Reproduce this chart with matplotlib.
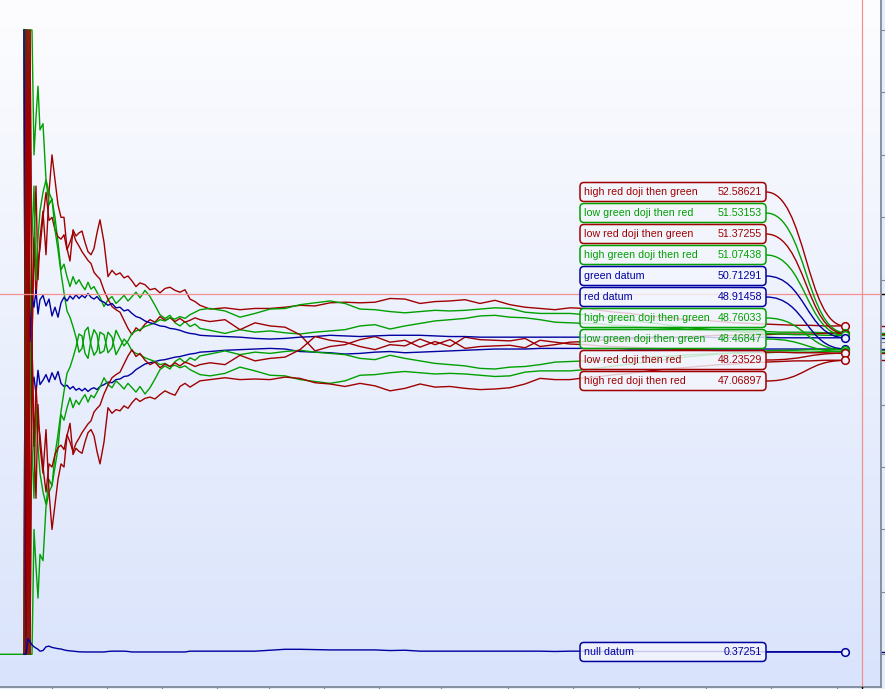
import numpy as np
import matplotlib.pyplot as plt
from matplotlib.patches import FancyBboxPatch, PathPatch
from matplotlib.path import Path
from matplotlib.colors import LinearSegmentedColormap

# bar positions, dense at the start where the ratios swing hard
bars = np.r_[0, np.arange(24, 41, 2), np.arange(43, 101, 3), np.arange(104, 141, 4),
             np.arange(145, 201, 5), np.arange(210, 841, 15), 845]

nan = np.nan

high_red_then_green = [nan,
    100, 100, 0, 100, 50, 66.7, 75, 60, 66.7,
    71, 64, 74, 80, 76, 72, 70, 70, 65, 63, 68, 67, 67.5, 67.8, 66, 64.5, 64, 65, 67.5, 69.6,
    66, 60.5, 61.5, 60.8, 61.1, 60.3, 60.6, 59.8, 58.9, 59.5,
    59.2, 58.4, 58.6, 57.9, 58.6, 58.8, 58.3, 58.0, 58.4, 56.9, 56.5, 55.9,
    55.3, 55.5, 55.2, 55.4, 55.4, 55.6, 55.9, 55.8, 56.3, 56.4,
    56.3, 56.4, 57.0, 56.9, 56.2, 56.5, 56.6, 56.8, 56.2, 56.7,
    56.0, 55.6, 55.4, 55.2, 55.5, 55.4, 55.1, 54.8, 54.6, 54.3,
    54.0, 53.8, 53.6, 53.5, 53.3, 53.1, 53.0, 52.9, 52.8, 52.7,
    52.7, 52.6, 52.6,
    52.58621]

low_green_then_red = [nan,
    100, 100, 100, 100, 100, 80, 86, 91, 84,
    85, 76, 74, 72.8, 70, 66, 61.6, 62.5, 60.5, 58.9, 60.5, 59.3, 60.0, 59.1, 58.4, 59.6, 58.5, 58.9, 58.0, 57.2,
    55.7, 56.8, 57.3, 56.2, 56.8, 57.5, 56.6, 57.3, 58.0, 57.1,
    58.3, 57.3, 55.9, 54.4, 53.8, 54.3, 53.1, 52.6, 53.3, 52.5, 52.9, 52.2,
    51.9, 51.4, 52.0, 51.6, 51.8, 51.5, 51.3, 51.6, 51.8, 52.0,
    52.6, 52.8, 52.1, 52.6, 53.0, 53.4, 53.6, 53.8, 54.2, 54.3,
    54.0, 53.9, 53.6, 53.2, 53.1, 53.0, 52.9, 52.7, 52.6, 52.4,
    52.3, 52.2, 52.0, 51.9, 51.8, 51.8, 51.7, 51.7, 51.6, 51.6,
    51.6, 51.5, 51.5,
    51.53153]

low_red_then_green = [nan,
    100, 0, 100, 0, 50, 66.7, 57, 62.7, 65,
    70, 74, 69.5, 70, 68, 66.9, 66.5, 67.2, 64.8, 66, 67.5, 66.2, 65.4, 64.5, 63.8, 63.1, 62.6, 61.2, 60.6, 60.1,
    58.3, 56.9, 55.7, 55.2, 54.8, 53.5, 52.2, 51.2, 52.3, 51.8,
    52.9, 53.6, 53.2, 54.1, 53.5, 53.9, 53.3, 53.8, 53.2, 53.5, 53.9, 53.6,
    53.3, 53.6, 52.0, 53.1, 52.6, 52.4, 51.2, 48.6, 49.3, 49.6,
    50.4, 50.9, 50.0, 50.3, 49.2, 50.1, 49.3, 50.8, 50.4, 50.3,
    50.2, 50.6, 49.3, 49.6, 50.0, 50.1, 50.3, 50.4, 50.5, 50.6,
    50.7, 50.8, 50.9, 51.0, 51.1, 51.1, 51.2, 51.2, 51.3, 51.3,
    51.3, 51.4, 51.4,
    51.37255]

high_green_then_red = [nan,
    100, 0, 100, 50, 66.7, 75, 60, 66.7, 71,
    74, 76, 72, 73, 68, 64.8, 61.1, 57.9, 55, 54, 52.5, 50.8, 48.4, 49.0, 51.8, 52.4, 49.5, 47.9, 48.6, 51.6,
    51.2, 48.3, 49.1, 51.9, 50.6, 49.4, 50.2, 51.4, 51.8, 52.0,
    52.5, 52.8, 53.1, 53.6, 53.4, 53.9, 53.7, 54.1, 53.8, 54.4, 54.8, 55.2,
    55.4, 55.0, 54.0, 54.6, 55.3, 55.4, 56.0, 56.3, 56.6, 56.2,
    55.3, 55.2, 54.9, 54.7, 54.9, 55.1, 55.0, 55.1, 55.3, 55.5,
    55.4, 54.8, 54.6, 54.6, 54.6, 54.4, 54.1, 53.8, 53.5, 53.2,
    52.9, 52.6, 52.3, 52.1, 51.9, 51.7, 51.5, 51.4, 51.3, 51.2,
    51.2, 51.1, 51.1,
    51.07438]

green_datum = [nan,
    100, 0, 66.7, 50, 57.1, 55.6, 58.3, 54.5, 56.8,
    57.5, 55.8, 56.9, 54.2, 55.6, 54.0, 56.3, 57.2, 56.6, 57.4, 56.9, 57.6, 57.0, 57.5, 57.1, 57.8, 57.2, 56.9, 57.3, 56.7,
    56.4, 55.9, 56.2, 55.5, 55.6, 55.0, 55.2, 54.6, 54.1, 53.9,
    53.4, 53.1, 52.9, 52.6, 52.5, 52.2, 52.1, 51.9, 51.6, 51.4, 51.3, 51.1,
    51.0, 50.9, 50.8, 50.6, 50.5, 50.6, 50.8, 50.9, 51.1, 51.0,
    50.9, 51.0, 51.1, 51.1, 51.1, 51.0, 50.9, 50.9, 50.8, 50.8,
    50.8, 50.8, 50.8, 50.8, 50.8, 50.8, 50.8, 50.8, 50.7, 50.8,
    50.8, 50.7, 50.7, 50.8, 50.7, 50.7, 50.7, 50.8, 50.7, 50.7,
    50.7, 50.7, 50.7,
    50.71291]

red_datum = [nan,
    0, 100, 33.3, 50, 42.9, 44.4, 41.7, 45.5, 43.2,
    43.9, 44.8, 43.6, 45.1, 44.0, 45.3, 43.4, 42.9, 43.1, 42.5, 42.9, 42.3, 42.6, 42.2, 42.6, 42.1, 42.5, 42.7, 42.4, 42.9,
    43.2, 43.6, 43.5, 44.0, 44.1, 44.5, 44.6, 45.0, 45.6, 46.0,
    46.5, 46.7, 46.9, 47.1, 47.2, 47.4, 47.6, 47.7, 47.9, 48.1, 48.2, 48.4,
    48.5, 48.7, 48.8, 48.9, 49.0, 48.9, 48.5, 48.4, 48.3, 48.1,
    48.2, 48.4, 48.5, 48.3, 48.4, 48.5, 48.6, 48.7, 48.8, 48.9,
    48.9, 48.9, 49.0, 49.0, 49.0, 49.0, 49.0, 49.0, 48.9, 48.9,
    48.9, 48.9, 48.9, 48.9, 48.9, 48.9, 48.9, 48.9, 48.9, 48.9,
    48.9, 48.9, 48.9,
    48.91458]

high_green_then_green = [nan,
    0, 100, 0, 50, 33.3, 25, 40, 33.3, 29,
    26, 24, 28, 27, 32, 35.2, 38.9, 42.1, 45, 46, 47.5, 49.2, 51.3, 51.0, 48.2, 47.4, 50.3, 52.0, 51.2, 48.2,
    48.6, 51.6, 50.8, 48.0, 49.2, 50.5, 49.8, 48.6, 48.2, 48.0,
    47.5, 47.2, 46.9, 46.4, 46.6, 46.1, 46.3, 45.9, 46.2, 45.6, 45.2, 44.8,
    44.6, 45.0, 46.0, 45.4, 44.7, 44.6, 44.0, 43.7, 43.4, 43.8,
    44.7, 44.8, 45.1, 45.3, 45.1, 44.9, 45.0, 44.9, 44.7, 44.5,
    44.6, 45.2, 45.4, 45.4, 45.4, 45.6, 45.9, 46.2, 46.5, 46.8,
    47.1, 47.4, 47.7, 47.9, 48.1, 48.3, 48.5, 48.6, 48.7, 48.7,
    48.8, 48.8, 48.8,
    48.76033]

# this one is already drawn along the floor from the first bar
low_green_then_green = [0,
    0, 0, 0, 0, 0, 20, 14, 9, 16,
    15, 23.6, 26, 27, 30, 33, 38.4, 37.5, 39.5, 41.1, 39.5, 40.7, 40.0, 40.9, 41.6, 40.4, 41.5, 41.1, 42.0, 42.8,
    44.3, 43.2, 42.7, 43.8, 43.2, 42.5, 43.4, 42.7, 42.0, 42.9,
    41.7, 42.7, 44.1, 45.6, 46.2, 45.7, 46.9, 47.4, 46.7, 47.5, 47.1, 47.8,
    48.1, 48.6, 48.0, 48.4, 48.2, 48.5, 48.7, 48.4, 48.2, 48.0,
    47.4, 47.2, 47.9, 47.4, 47.0, 46.6, 46.4, 46.2, 45.8, 45.7,
    46.0, 46.1, 46.4, 46.8, 46.9, 47.0, 47.1, 47.3, 47.4, 47.6,
    47.7, 47.8, 48.0, 48.1, 48.2, 48.2, 48.3, 48.3, 48.4, 48.4,
    48.4, 48.5, 48.5,
    48.46847]

low_red_then_red = [nan,
    0, 100, 0, 100, 50, 33.3, 43, 37.3, 35,
    30, 26, 30.5, 30, 32, 33.1, 33.5, 32.8, 35.2, 34, 32.5, 33.8, 34.6, 35.5, 36.2, 36.9, 37.4, 38.8, 39.4, 39.9,
    41.7, 43.1, 44.3, 44.8, 45.2, 46.5, 47.8, 48.8, 47.7, 48.2,
    47.1, 46.4, 46.8, 45.9, 46.5, 46.1, 46.7, 46.2, 46.8, 46.5, 46.1, 46.4,
    46.7, 46.4, 47.9, 47.0, 47.4, 47.6, 48.8, 50.9, 50.3, 50.0,
    49.3, 48.8, 49.6, 49.4, 50.5, 49.6, 50.4, 49.0, 49.3, 49.4,
    49.5, 49.1, 50.3, 50.0, 49.7, 49.6, 49.4, 49.3, 49.2, 49.1,
    49.0, 48.9, 48.8, 48.7, 48.6, 48.5, 48.5, 48.4, 48.4, 48.3,
    48.3, 48.3, 48.2,
    48.23529]

high_red_then_red = [nan,
    0, 0, 100, 0, 50, 33.3, 25, 40, 33.3,
    29, 36, 26, 20, 24, 28, 30.5, 30, 35, 37, 32, 33, 32.5, 32.2, 34, 35.5, 36, 35, 32.5, 30.5,
    34, 39.5, 38.6, 39.2, 39.0, 39.8, 39.4, 40.3, 41.0, 40.5,
    41.0, 41.2, 40.9, 41.6, 42.2, 41.8, 41.5, 42.9, 43.4, 42.8, 43.3, 43.8,
    44.0, 44.3, 44.0, 44.1, 44.0, 44.4, 44.2, 43.5, 43.3, 42.9,
    43.4, 43.0, 42.2, 42.6, 43.3, 42.8, 42.9, 42.6, 42.4, 42.5,
    42.7, 43.3, 44.2, 44.0, 44.0, 44.3, 44.5, 44.8, 45.0, 45.3,
    45.6, 45.8, 46.0, 46.2, 46.4, 46.5, 46.7, 46.8, 46.9, 47.0,
    47.0, 47.1, 47.1,
    47.06897]

null_datum = [nan,
    0, 0, 2.5, 2.0, 1.5, 1.2, 1.0, 0.8, 0.5,
    0.6, 1.2, 1.3, 1.1, 1.0, 0.9, 0.85, 0.7, 0.6, 0.55, 0.5, 0.45, 0.4, 0.38, 0.37, 0.37, 0.37, 0.37, 0.37, 0.37,
    0.37, 0.45, 0.5, 0.5, 0.5, 0.5, 0.45, 0.37, 0.37, 0.37,
    0.37, 0.37, 0.37, 0.37, 0.37, 0.37, 0.37, 0.37, 0.37, 0.5, 0.5, 0.5,
    0.5, 0.5, 0.5, 0.5, 0.65, 0.8, 0.8, 0.75, 0.7, 0.7,
    0.7, 0.7, 0.6, 0.65, 0.5, 0.5, 0.5, 0.5, 0.5, 0.5,
    0.5, 0.5, 0.5, 0.45, 0.5, 0.5, 0.45, 0.45, 0.45, 0.45,
    0.45, 0.45, 0.45, 0.45, 0.45, 0.4, 0.4, 0.4, 0.4, 0.4,
    0.4, 0.4, 0.37,
    0.37251]

RED, GREEN, BLUE = "#a00000", "#00a000", "#0000a0"

# label stack order, top to bottom
series = [
    ("high red doji then green", RED, high_red_then_green),
    ("low green doji then red", GREEN, low_green_then_red),
    ("low red doji then green", RED, low_red_then_green),
    ("high green doji then red", GREEN, high_green_then_red),
    ("green datum", BLUE, green_datum),
    ("red datum", BLUE, red_datum),
    ("high green doji then green", GREEN, high_green_then_green),
    ("low green doji then green", GREEN, low_green_then_green),
    ("low red doji then red", RED, low_red_then_red),
    ("high red doji then red", RED, high_red_then_red),
]

W, H = 885, 689
AX_W, AX_H = 881, 687
Y_BOT, Y_TOP = -5.24, 104.81
per_px = (Y_TOP - Y_BOT) / AX_H

fig = plt.figure(figsize=(W / 100, H / 100), dpi=100, facecolor="#e6ecfb")
ax = fig.add_axes([0, (H - AX_H) / H, AX_W / W, AX_H / H])
ax.set_xlim(0, AX_W)
ax.set_ylim(Y_BOT, Y_TOP)

# background gradient
cmap = LinearSegmentedColormap.from_list("bg", ["#fdfdff", "#d9e3fb"])
ax.imshow(np.linspace(0, 1, 256)[:, None], cmap=cmap, aspect="auto",
          extent=(0, AX_W, Y_BOT, Y_TOP), origin="upper", zorder=0)

# crosshair
ax.axhline(57.7, color="#f29090", lw=0.9, zorder=3)
ax.axvline(862, color="#f29090", lw=0.9, zorder=3)

for name, color, vals in series:
    ax.plot(bars, vals, color=color, lw=1.0, zorder=2)
ax.plot(bars, null_datum, color=BLUE, lw=1.0, zorder=2)

font = dict(family="Liberation Sans", fontsize=7.7)
slot_px = [192, 213, 234, 255, 276, 297, 318, 339, 360, 381]
box_h = 19 * per_px


def label(name, color, last, yc):
    box = FancyBboxPatch((580, yc - box_h / 2), 186, box_h,
                         boxstyle="round,pad=0,rounding_size=4", mutation_aspect=per_px,
                         fc=(0.955, 0.963, 0.996, 0.82), ec=color, lw=1.1, zorder=5)
    ax.add_patch(box)
    ax.text(584, yc, name, color=color, va="center", ha="left", zorder=6, **font)
    ax.text(762, yc, f"{last:.5f}", color=color, va="center", ha="right", zorder=6, **font)
    conn = Path([(766, yc), (806, yc), (806, last), (845, last)],
                [Path.MOVETO, Path.CURVE4, Path.CURVE4, Path.CURVE4])
    ax.add_patch(PathPatch(conn, fc="none", ec=color, lw=1.0, zorder=4))
    ax.plot(845, last, "o", ms=5.5, mfc="#eef2fd", mec=color, mew=1.1, zorder=7)
    ax.plot([882, 885], [last, last], color=color, lw=1.0, clip_on=False, zorder=7)


for (name, color, vals), py in zip(series, slot_px):
    label(name, color, vals[-1], Y_TOP - py * per_px)
label("null datum", BLUE, null_datum[-1], null_datum[-1])

# axes furniture
for s in ("left", "top"):
    ax.spines[s].set_visible(False)
for s in ("right", "bottom"):
    ax.spines[s].set_color("#7c8a9a")
    ax.spines[s].set_linewidth(1.3)
ax.yaxis.tick_right()
ax.set_yticks(np.arange(0, 101, 10))
ax.set_xticks([52, 107, 162, 217, 269, 324, 379, 441, 508, 573, 639, 706, 771, 837])
ax.tick_params(axis="y", direction="out", length=3.5, color="#7c8a9a", labelright=False, labelleft=False)
ax.tick_params(axis="x", direction="out", length=2.5, color="#7c8a9a", labelbottom=False)
ax.plot([882, 885], [57.7, 57.7], color="black", lw=1.0, clip_on=False, zorder=7)
ax.plot([862, 862], [Y_BOT, Y_BOT - 3 * per_px], color="black", lw=1.0, clip_on=False, zorder=7)

fig.savefig("out.png", dpi=100, facecolor=fig.get_facecolor())
